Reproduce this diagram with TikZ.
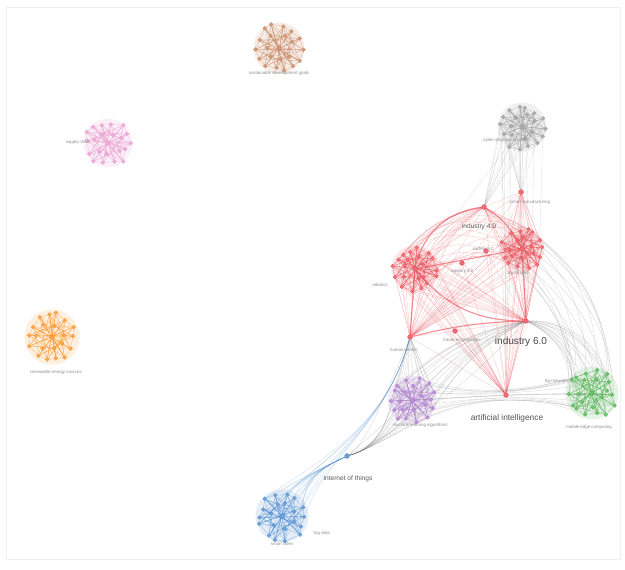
\documentclass[tikz,border=0pt]{standalone}
\usepackage{fontspec}
\setmainfont{Liberation Sans}
\usetikzlibrary{calc,backgrounds}

\definecolor{kwred}{RGB}{232,70,80}
\definecolor{kwgreen}{RGB}{70,175,70}
\definecolor{kwblue}{RGB}{70,135,205}
\definecolor{kwpurple}{RGB}{170,115,205}
\definecolor{kworange}{RGB}{250,140,25}
\definecolor{kwbrown}{RGB}{195,125,85}
\definecolor{kwpink}{RGB}{232,150,205}
\definecolor{kwgray}{RGB}{150,150,150}
\definecolor{kwedge}{RGB}{110,110,110}

\tikzset{
  kw/.style={circle, inner sep=0pt, minimum size=4.4pt, fill=#1!75, draw=#1, line width=0.3pt},
  hub/.style={circle, inner sep=0pt, minimum size=5.5pt, fill=#1!80, draw=#1, line width=0.3pt},
  link/.style={draw=#1, opacity=0.3, line width=0.35pt},
  inlink/.style={draw=#1, opacity=0.5, line width=0.45pt},
  tie/.style={draw=#1, opacity=0.6, line width=1.3pt},
  tinylbl/.style={font=\fontsize{5}{5}\selectfont, text=black!45},
  midlbl/.style={font=\fontsize{7.5}{7.5}\selectfont, text=black!65},
  biglbl/.style={font=\fontsize{9.5}{9.5}\selectfont, text=black!68},
}

% one keyword cluster: name, x, y, radius, colour
\newcommand{\kwcluster}[5]{%
  \node[hub=#5] (#1) at (#2,#3) {};
  \foreach \i in {1,...,14} {
    \pgfmathsetmacro{\ang}{\i*360/14+8*rand}
    \pgfmathsetmacro{\rad}{#4*(0.88+0.12*rand)}
    \node[kw=#5] (#1-\i) at ($(#1)+(\ang:\rad)$) {};
  }
  \foreach \i in {1,...,7} {
    \pgfmathsetmacro{\ang}{\i*360/7+20+15*rand}
    \pgfmathsetmacro{\rad}{#4*(0.5+0.1*rand)}
    \node[kw=#5] (#1-c\i) at ($(#1)+(\ang:\rad)$) {};
  }
  \begin{pgfonlayer}{background}
  \fill[#5, opacity=0.14] (#1) circle (#4*1.02);
  \foreach \i [evaluate=\i as \j using {int(mod(\i,14)+1)},
               evaluate=\i as \k using {int(mod(\i+4,14)+1)},
               evaluate=\i as \l using {int(mod(\i+6,14)+1)},
               evaluate=\i as \m using {int(mod(\i,7)+1)},
               evaluate=\i as \n using {int(mod(\i+3,7)+1)}] in {1,...,14} {
    \path[inlink=#5] (#1-\i) edge (#1-\j) edge (#1-\k) edge (#1-\l)
      edge (#1-c\m) edge (#1-c\n) edge (#1);
  }
  \end{pgfonlayer}
}

\begin{document}
\begin{tikzpicture}[x=0.4mm,y=0.4mm]
\useasboundingbox (0,0) rectangle (625,569);
\draw[black!6] (6,10) rectangle (620,562);
\pgfmathsetseed{7}

% clusters
\kwcluster{brown}{279}{521}{25}{kwbrown}
\kwcluster{pink}{108}{426}{24}{kwpink}
\kwcluster{orange}{52}{232}{27}{kworange}
\kwcluster{gray}{522}{442}{24}{kwgray}
\kwcluster{redL}{415}{300}{23}{kwred}
\kwcluster{redR}{522}{320}{22}{kwred}
\kwcluster{purple}{412}{169}{24}{kwpurple}
\kwcluster{green}{592}{176}{26}{kwgreen}
\kwcluster{blue}{282}{53}{26}{kwblue}

% single keywords
\node[hub=kwred] (addman) at (521,377) {};
\node[hub=kwred] (ind4) at (484,362) {};
\node[hub=kwred] (ind5) at (462,306) {};
\node[hub=kwred] (soc5) at (486,318) {};
\node[hub=kwred] (ind6) at (526,248) {};
\node[hub=kwred] (human) at (410,232) {};
\node[hub=kwred] (future) at (455,238) {};
\node[hub=kwred] (ai) at (506,174) {};
\node[hub=kwblue] (iot) at (347,113) {};

% labels
\node[tinylbl] (brown-lbl) at (279,496) {sustainable development goals};
\node[tinylbl] (pink-lbl) at (78,427) {supply chain};
\node[tinylbl] (orange-lbl) at (56,197) {renewable energy sources};
\node[tinylbl] (gray-lbl) at (506,429) {cyber-physical systems};
\node[tinylbl] (addman-lbl) at (530,367) {smart manufacturing};
\node[midlbl] (ind4-lbl) at (479,342) {industry 4.0};
\node[tinylbl] (ind5-lbl) at (462,298) {industry 5.0};
\node[tinylbl] (soc5-lbl) at (483,320) {society 5.0};
\node[tinylbl] (redR-lbl) at (518,296) {digital twin};
\node[tinylbl] (redL-lbl) at (380,284) {robotics};
\node[font=\fontsize{11.5}{11.5}\selectfont, text=black!72] (ind6-lbl) at (521,227) {industry 6.0};
\node[tinylbl] (future-lbl) at (462,229) {future technologies};
\node[tinylbl] (human-lbl) at (404,219) {human-centric};
\node[tinylbl] (purple-lbl) at (420,144) {machine learning algorithms};
\node[biglbl] (ai-lbl) at (507,151) {artificial intelligence};
\node[tinylbl] (green-lbl) at (589,142) {mobile edge computing};
\node[tinylbl] (green-lbl2) at (557,188) {6g networks};
\node[midlbl] (iot-lbl) at (348,90) {internet of things};
\node[tinylbl] (blue-lbl) at (282,25) {smart cities};
\node[tinylbl] (blue-lbl2) at (322,36) {big data};

\begin{scope}[on background layer]
% red core
\path[tie=kwred] (redL) edge[bend left=35] (ind4)
  (ind4) edge[bend left=15] (redR)
  (redL) edge (redR)
  (redL) edge[bend right=25] (ind6)
  (human) edge[bend left=6] (ind6)
  (redL) edge (human)
  (redR) edge (ind6);
\foreach \i in {1,...,14} {
  \path[link=kwred] (redL-\i) edge (ind6) edge[bend left=40] (redR-\i) edge (ai)
    edge (human) edge[bend left=20] (ind4);
  \path[link=kwred] (redR-\i) edge (ind6) edge (human) edge (ind4) edge (addman)
    edge (ai);
}
\foreach \n in {ind4,addman,ind5,soc5,future} {
  \path[link=kwred] (\n) edge (ai) edge (ind6) edge (human) edge (redL);
}
\path[link=kwred] (addman) edge (ind4) edge (redR) (ai) edge (ind6) edge (human);

% links to the grey cluster
\foreach \i in {1,...,10} {
  \path[link=kwgray] (gray-\i) edge (addman) edge (redR-\i) edge (ind4);
}
\path[link=kwgray] (gray) edge (ind6) edge (redL);

% industry 6.0 to green, purple to green
\foreach \i in {1,...,14} {
  \path[link=kwedge] (ind6) edge[bend left=35] (green-\i)
    (redR-\i) edge[bend left=25] (green-\i)
    (purple-\i) edge (human)
    (ind6) edge[bend right=15] (purple-\i);
  \draw[link=kwedge] (purple-\i) .. controls (470,172) and (530,176) .. (green-\i);
}
\path[link=kwedge] (ai) edge (green) edge (purple);

% down to the blue cluster through internet of things
\foreach \i in {1,...,14} {
  \draw[link=kwedge] (purple-\i) .. controls (385,130) and (365,118) .. (iot);
  \draw[link=kwblue] (iot) .. controls (320,100) and (300,90) .. (blue-\i);
}
\draw[link=kwedge] (human) .. controls (380,160) and (365,125) .. (iot);
\foreach \i in {1,3,...,13} {
  \draw[link=kwblue] (human) .. controls (385,140) and (320,110) .. (blue-\i);
}
\path[link=kwedge] (iot) edge (purple) edge[bend right=10] (ind6);
\end{scope}
\end{tikzpicture}
\end{document}
